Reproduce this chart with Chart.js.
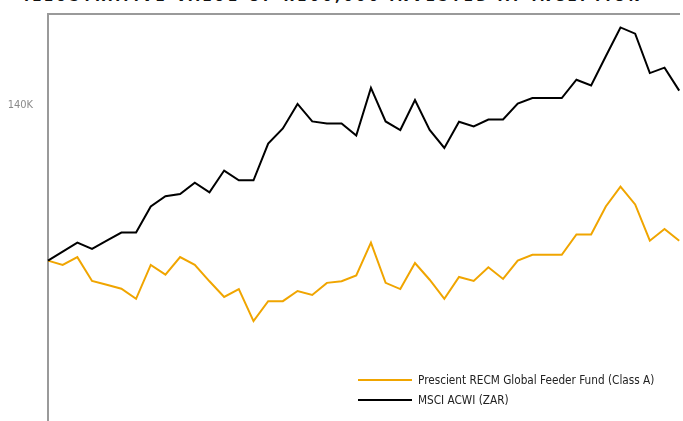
<!DOCTYPE html>
<html>
<head>
<meta charset="utf-8">
<script src="https://cdn.jsdelivr.net/npm/chart.js@4/dist/chart.umd.min.js"></script>
<style>
  html,body{margin:0;padding:0;background:#fff;overflow:hidden;width:683px;height:421px;}
  #title{position:absolute;left:-8px;top:-11px;width:683px;text-align:center;
    font-family:"Liberation Sans Narrow","DejaVu Sans Condensed",sans-serif;font-weight:bold;
    font-size:15px;letter-spacing:3.25px;color:#111;white-space:nowrap;line-height:15px;}
  #c{position:absolute;left:0;top:0;}
  #legend{position:absolute;left:358px;top:370px;font-family:"Liberation Sans Narrow","DejaVu Sans Condensed",sans-serif;
    font-size:11.7px;color:#222;}
  .row{display:flex;align-items:center;height:20px;}
  .sw{width:54px;height:2px;margin-right:6px;}
</style>
</head>
<body>
<div id="title">ILLUSTRATIVE VALUE OF R100,000 INVESTED AT INCEPTION</div>
<canvas id="c" width="683" height="440"></canvas>
<div id="legend"></div>
<script>
// Periods (monthly, index from inception)
const periods = Array.from({length: 44}, (_, i) => String(i));
const seriesNames = ["Prescient RECM Global Feeder Fund (Class A)", "MSCI ACWI (ZAR)"];
// Values in thousands of rand (R100K invested at inception)
const fundValues = [100.0, 98.9, 100.9, 94.8, 93.8, 92.8, 90.2, 98.9, 96.4, 100.9,
  98.9, 94.7, 90.7, 92.7, 84.5, 89.6, 89.6, 92.2, 91.2, 94.3,
  94.7, 96.2, 104.6, 94.3, 92.7, 99.4, 95.1, 90.2, 95.8, 94.8,
  98.3, 95.3, 100.0, 101.5, 101.5, 101.5, 106.7, 106.7, 113.9, 119.0,
  114.4, 105.1, 108.1, 105.1];
const msciValues = [100.0, 102.3, 104.6, 103.0, 105.1, 107.2, 107.2, 113.9, 116.5, 117.1,
  120.0, 117.5, 123.1, 120.6, 120.6, 130.0, 133.9, 140.2, 135.7, 135.2,
  135.2, 132.1, 144.3, 135.7, 133.5, 141.2, 133.5, 128.9, 135.6, 134.4,
  136.2, 136.2, 140.3, 141.7, 141.7, 141.7, 146.4, 144.9, 152.4, 159.8,
  158.2, 148.1, 149.5, 143.6];
const yTicks = [140];
const colors = ["#F0A500", "#000000"];

const legend = document.getElementById('legend');
seriesNames.forEach((n, i) => {
  const r = document.createElement('div'); r.className = 'row';
  r.innerHTML = '<div class="sw" style="background:' + colors[i] + '"></div><span>' + n + '</span>';
  legend.appendChild(r);
});

new Chart(document.getElementById('c'), {
  type: 'line',
  data: {
    labels: periods,
    datasets: [
      {label: seriesNames[0], data: fundValues, borderColor: colors[0], borderWidth: 2, pointRadius: 0, tension: 0, order: 2},
      {label: seriesNames[1], data: msciValues, borderColor: colors[1], borderWidth: 2, pointRadius: 0, tension: 0, order: 1}
    ]
  },
  options: {
    responsive: false, animation: false,
    layout: {padding: {top: 14, right: 3.8, bottom: 0, left: 0}},
    plugins: {legend: {display: false}, tooltip: {enabled: false}, title: {display: false}},
    scales: {
      x: {
        position: 'top', offset: false,
        ticks: {display: false}, grid: {display: false, drawTicks: false},
        border: {display: true, color: '#9a9a9a', width: 2},
        afterFit: s => { s.height = 0; s.paddingLeft = 0; s.paddingRight = 0; }
      },
      y: {
        min: 54, max: 163.25,
        grid: {display: false, drawTicks: false},
        border: {display: true, color: '#9a9a9a', width: 2},
        afterBuildTicks: s => { s.ticks = yTicks.map(v => ({value: v})); },
        ticks: {
          padding: 15, color: '#8a8a8a',
          font: {family: '"Liberation Sans Narrow","DejaVu Sans Condensed",sans-serif', size: 11},
          callback: v => v + 'K'
        },
        afterFit: s => { s.width = 48; s.paddingTop = 0; s.paddingBottom = 0; }
      }
    }
  }
});
</script>
</body>
</html>
